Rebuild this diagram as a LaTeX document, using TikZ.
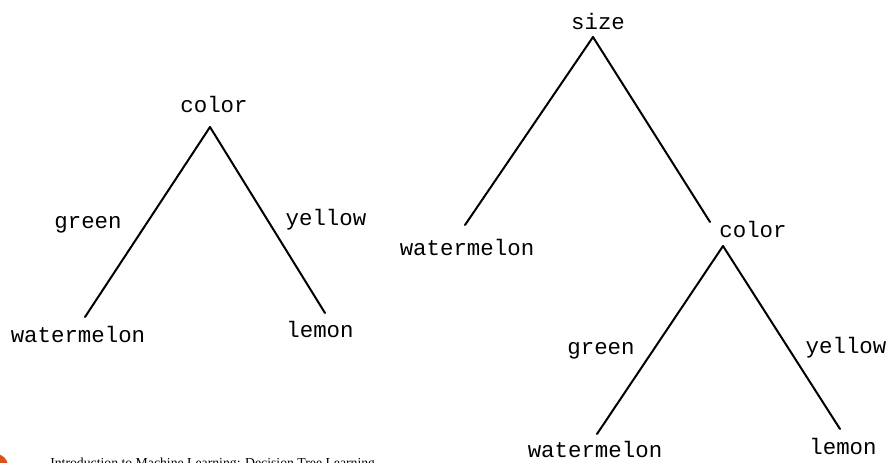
\documentclass[tikz,border=0pt]{standalone}
\usepackage{fontspec}
\newfontfamily\treefont{Liberation Mono}
\newfontfamily\footfont{Liberation Serif}
\definecolor{accent}{HTML}{D9531E}
\begin{document}
\begin{tikzpicture}[x=0.75pt,y=-0.75pt,
  lbl/.style={inner sep=0pt,anchor=base,font=\treefont\fontsize{16.8}{18}\selectfont},
  edge/.style={line width=1.5pt,line cap=round}]
\useasboundingbox (0,0) rectangle (889,462);
\clip (0,0) rectangle (889,462);
% left tree
\node[lbl] (c1) at (214,112) {color};
\coordinate (c1a) at (210,127);
\coordinate (w1e) at (85,317);
\coordinate (l1e) at (325,313);
\node[lbl] (g1) at (88,228) {green};
\node[lbl] (y1) at (326,225) {yellow};
\node[lbl] (w1) at (78,342) {watermelon};
\node[lbl] (l1) at (320,337) {lemon};
\draw[edge] (c1a) -- (w1e);
\draw[edge] (c1a) -- (l1e);
% right tree
\node[lbl] (s) at (598,29) {size};
\coordinate (sa) at (593,37);
\coordinate (w2e) at (465,225);
\coordinate (c2e) at (710,222);
\node[lbl] (w2) at (467,255) {watermelon};
\node[lbl] (c2) at (753,237) {color};
\coordinate (c2a) at (723,246);
\coordinate (w3e) at (597,434);
\coordinate (l3e) at (840,429);
\node[lbl] (g2) at (601,354) {green};
\node[lbl] (y2) at (846,353) {yellow};
\node[lbl] (w3) at (595,457) {watermelon};
\node[lbl] (l3) at (843,454) {lemon};
\draw[edge] (sa) -- (w2e);
\draw[edge] (sa) -- (c2e);
\draw[edge] (c2a) -- (w3e);
\draw[edge] (c2a) -- (l3e);
% footer
\fill[accent] (-4,466) circle (12);
\node[anchor=base west,inner sep=0pt,font=\footfont\fontsize{10.3}{12}\selectfont] (foot) at (50,467) {Introduction to Machine Learning: Decision Tree Learning};
\end{tikzpicture}
\end{document}
